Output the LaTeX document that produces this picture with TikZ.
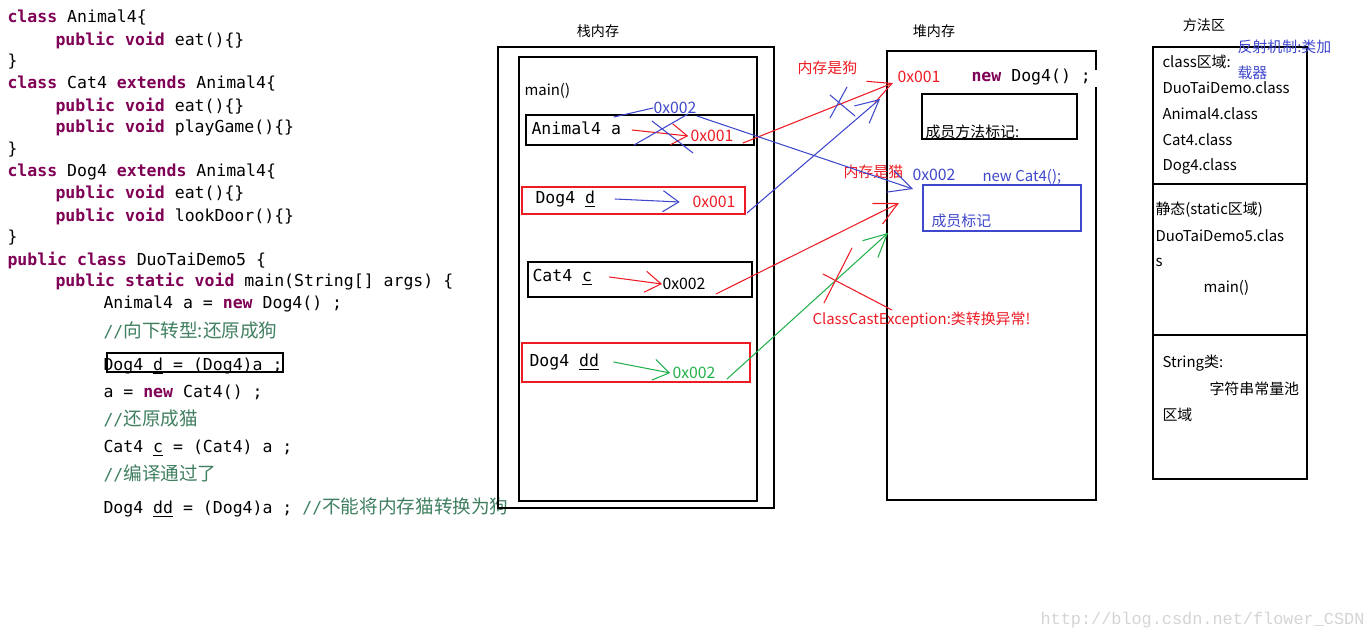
\documentclass[tikz,border=0pt]{standalone}
\usepackage{fontspec}
\usepackage{xcolor}
\setmonofont{DejaVu Sans Mono}
\newfontfamily\cjk{Noto Sans CJK SC}
\newfontfamily\webmono{Liberation Mono}
\usetikzlibrary{arrows.meta}

\definecolor{kwpurple}{RGB}{127,0,85}
\definecolor{cmtgreen}{RGB}{63,127,95}
\definecolor{penred}{RGB}{237,28,36}
\definecolor{penblue}{RGB}{63,72,204}
\definecolor{pengreen}{RGB}{34,177,76}
\definecolor{markgray}{RGB}{212,212,212}

\newcommand{\codesz}{\ttfamily\fontsize{9.4}{11}\selectfont}
\newcommand{\kw}[1]{\textcolor{kwpurple}{\textbf{#1}}}
\newcommand{\cmt}[1]{\textcolor{cmtgreen}{//{\cjk\fontsize{10.6}{13}\selectfont #1}}}

\begin{document}
\begin{tikzpicture}[x=0.02cm, y=-0.02cm, line width=0.6pt,
  code/.style={anchor=west, inner sep=0pt, text height=7pt, text depth=2pt, font=\codesz},
  lab/.style={anchor=west, inner sep=0pt, font=\cjk\fontsize{8.5}{10}\selectfont},
  hex/.style={anchor=west, inner sep=0pt, font=\cjk\fontsize{9}{11}\selectfont},
  title/.style={inner sep=0pt, font=\cjk\fontsize{8}{10}\selectfont},
  pen/.style={line width=0.6pt, line cap=round},
  tip/.style={-{Straight Barb[length=9pt,width=12pt]}},
  longtip/.style={-{Straight Barb[length=13pt,width=13pt]}}]
\useasboundingbox (0,0) rectangle (1370,640);

% source code
\node[code] (cls1) at (7,18) {\kw{class} Animal4\{};
\node[code] (eat1) at (55,41) {\kw{public} \kw{void} eat()\{\}};
\node[code] (end1) at (7,62) {\}};
\node[code] (cls2) at (7,84) {\kw{class} Cat4 \kw{extends} Animal4\{};
\node[code] (eat2) at (55,107) {\kw{public} \kw{void} eat()\{\}};
\node[code] (play) at (55,128) {\kw{public} \kw{void} playGame()\{\}};
\node[code] (end2) at (7,150) {\}};
\node[code] (cls3) at (7,172) {\kw{class} Dog4 \kw{extends} Animal4\{};
\node[code] (eat3) at (55,194) {\kw{public} \kw{void} eat()\{\}};
\node[code] (door) at (55,217) {\kw{public} \kw{void} lookDoor()\{\}};
\node[code] (end3) at (7,238) {\}};
\node[code] (cls4) at (7,261) {\kw{public} \kw{class} DuoTaiDemo5 \{};
\node[code] (mainm) at (55,282) {\kw{public} \kw{static} \kw{void} main(String[] args) \{};
\node[code] (st1) at (103,304) {Animal4 a = \kw{new} Dog4() ;};
\node[code] (cm1) at (103,333) {\cmt{向下转型:还原成狗}};
\node[code] (st2) at (103,366) {Dog4 \underline{d} = (Dog4)a ;};
\node[code] (st3) at (103,393) {a = \kw{new} Cat4() ;};
\node[code] (cm2) at (103,421) {\cmt{还原成猫}};
\node[code] (st4) at (103,448) {Cat4 \underline{c} = (Cat4) a ;};
\node[code] (cm3) at (103,476) {\cmt{编译通过了}};
\node[code] (st5) at (103,509) {Dog4 \underline{dd} = (Dog4)a ; \cmt{不能将内存猫转换为狗}};
\draw (107,353) rectangle (283,372);

% stack
\node[title] (stacktitle) at (598,31) {栈内存};
\draw (498,47) rectangle (774,508);
\draw (519,57) rectangle (757,501);
\node[lab] (mainframe) at (524,91) {main()};
\draw (526,115) rectangle (754,145);
\node[code] (varA) at (531,130) {Animal4 a};
\node[hex, text=penred] (hexA) at (690,136) {0x001};
\node[hex, text=penblue] (hexA2) at (653,108) {0x002};
\draw[penred] (522,187) rectangle (745,214);
\node[code] (varD) at (535,199) {Dog4 \underline{d}};
\node[hex, text=penred] (hexD) at (692,202) {0x001};
\draw (528,262) rectangle (752,297);
\node[code] (varC) at (532,277) {Cat4 \underline{c}};
\node[hex] (hexC) at (662,284) {0x002};
\draw[penred] (522,343) rectangle (750,382);
\node[code] (varDD) at (529,362) {Dog4 \underline{dd}};
\node[hex, text=pengreen] (hexDD) at (672,373) {0x002};

% heap
\node[title] (heaptitle) at (934,31) {堆内存};
\draw (1096,70) -- (1096,51) -- (887,51) -- (887,500) -- (1096,500) -- (1096,87);
\node[hex, text=penred] (heapA) at (897,77) {0x001};
\node[code] (newdog) at (971,77) {\kw{new} Dog4() ;};
\draw (922,94) rectangle (1077,139);
\node[lab] (dogmark) at (925,132) {成员方法标记:};
\node[lab, text=penred] (isdog) at (797,68) {内存是狗};
\node[lab, text=penred] (iscat) at (843,172) {内存是猫};
\node[hex, text=penblue] (heapC) at (912,175) {0x002};
\node[lab, text=penblue] (newcat) at (982,177) {new Cat4();};
\draw[penblue] (923,185) rectangle (1081,231);
\node[lab, text=penblue] (catmark) at (931,221) {成员标记};
\node[lab, text=penred] (castex) at (812,320) {ClassCastException:类转换异常!};

% method area
\node[title] (methtitle) at (1204,25) {方法区};
\draw (1153,47) rectangle (1307,479);
\draw (1153,184) -- (1307,184);
\draw (1153,335) -- (1307,335);
\node[lab] (clsarea) at (1162,62) {class区域:};
\node[lab] (m1) at (1162,88) {DuoTaiDemo.class};
\node[lab] (m2) at (1162,114) {Animal4.class};
\node[lab] (m3) at (1162,140) {Cat4.class};
\node[lab] (m4) at (1162,166) {Dog4.class};
\node[lab, text=penblue] (refl1) at (1237,47) {反射机制:类加};
\node[lab, text=penblue] (refl2) at (1237,73) {载器};
\node[lab] (statarea) at (1155,210) {静态(static区域)};
\node[lab] (s1) at (1155,236) {DuoTaiDemo5.clas};
\node[lab] (s2) at (1155,262) {s};
\node[lab] (s3) at (1203,288) {main()};
\node[lab] (strarea) at (1162,363) {String类:};
\node[lab] (pool1) at (1209,389) {字符串常量池};
\node[lab] (pool2) at (1162,415) {区域};

\node[anchor=west, inner sep=0pt, text=markgray, font=\webmono\fontsize{9.6}{11}\selectfont] (mark) at (1040,620) {http://blog.csdn.net/flower\_CSDN};

% pen strokes
\coordinate (aOut) at (743,143);
\coordinate (aIn) at (893,83);
\coordinate (a2Out) at (697,116);
\coordinate (a2In) at (913,189);
\coordinate (dOut) at (747,213);
\coordinate (dIn) at (880,99);
\coordinate (cOut) at (716,294);
\coordinate (cIn) at (899,203);
\coordinate (ddOut) at (727,379);
\coordinate (ddIn) at (888,233);

\draw[pen, penred, tip] ([xshift=6pt]varA.east) -- ([xshift=-1pt]hexA.west);
\draw[pen, penblue, tip] ([xshift=11pt]varD.east) -- ([xshift=-7pt]hexD.west);
\draw[pen, penred, tip] ([xshift=9.5pt]varC.east) -- (hexC.west);
\draw[pen, pengreen, tip] ([xshift=8pt]varDD.east) -- ([xshift=-1pt]hexDD.west);

\draw[pen, penblue] (614,117) -- (hexA2.west);
\draw[pen, penblue] (634,145) -- (688,114);
\draw[pen, penblue] (652,121) -- (693,153);

\draw[pen, penred, longtip] (aOut) -- (aIn);
\draw[pen, penblue] (830,95) -- (855,116);
\draw[pen, penblue] (847,87) -- (830,118);
\draw[pen, penblue, longtip] (a2Out) -- (a2In);
\draw[pen, penblue, longtip] (dOut) -- (dIn);
\draw[pen, penred, longtip] (cOut) -- (cIn);
\draw[pen, pengreen, longtip] (ddOut) -- (ddIn);
\draw[pen, penred] (852,248) -- (824,303);
\draw[pen, penred] (823,274) -- (892,310);
\end{tikzpicture}
\end{document}
